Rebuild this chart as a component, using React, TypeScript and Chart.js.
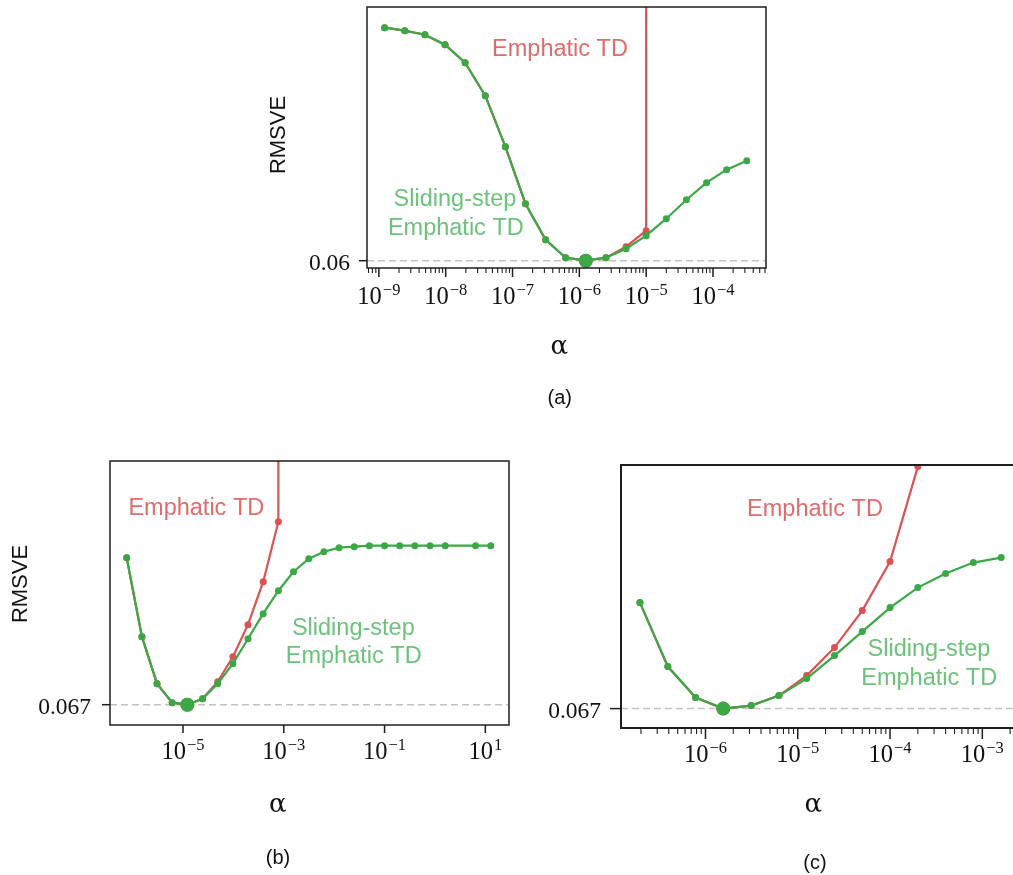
import React, { useEffect, useRef } from "react";
import { Chart, registerables } from "chart.js";
Chart.register(...registerables);

const RED = "#db5252";
const GREEN = "#3ba846";
const RED_TEXT = "#e06b6b";
const GREEN_TEXT = "#6cc27b";
const DASH = "#c2c2c2";

// ---------------- panel (a)
const alphaA = [1.22e-9, 2.44e-9, 4.88e-9, 9.77e-9, 1.95e-8, 3.91e-8, 7.81e-8, 1.56e-7, 3.13e-7, 6.25e-7, 1.25e-6, 2.5e-6, 5e-6, 1e-5, 2e-5, 4e-5, 8e-5, 1.6e-4, 3.2e-4];
const slidingA = [0.0833, 0.083, 0.0826, 0.0816, 0.0798, 0.0765, 0.0714, 0.0657, 0.0621, 0.0603, 0.06, 0.0603, 0.0612, 0.0625, 0.0642, 0.0661, 0.0678, 0.0691, 0.07];
// last entry: diverged run (drawn as a vertical line)
const alphaEmphA = [1.22e-9, 2.44e-9, 4.88e-9, 9.77e-9, 1.95e-8, 3.91e-8, 7.81e-8, 1.56e-7, 3.13e-7, 6.25e-7, 1.25e-6, 2.5e-6, 5e-6, 1e-5, 1e-5];
const emphaticA = [0.0833, 0.083, 0.0826, 0.0816, 0.0798, 0.0765, 0.0714, 0.0657, 0.0621, 0.0603, 0.06, 0.0603, 0.0614, 0.063, 1.0];
const xTickExpA = [-9, -8, -7, -6, -5, -4];
const yTickA = 0.06;
const yTickLabelA = "0.06";

// ---------------- panel (b)
const alphaB = [7.63e-7, 1.53e-6, 3.05e-6, 6.1e-6, 1.22e-5, 2.44e-5, 4.88e-5, 9.77e-5, 1.95e-4, 3.91e-4, 7.81e-4, 1.56e-3, 3.13e-3, 6.25e-3, 0.0125, 0.025, 0.05, 0.1, 0.2, 0.4, 0.8, 1.6, 6.4, 12.8];
const slidingB = [0.0817, 0.0738, 0.0691, 0.0672, 0.067, 0.0676, 0.0691, 0.0711, 0.0736, 0.0761, 0.0784, 0.0803, 0.0816, 0.0823, 0.0827, 0.0828, 0.0829, 0.0829, 0.0829, 0.0829, 0.0829, 0.0829, 0.0829, 0.0829];
const alphaEmphB = [7.63e-7, 1.53e-6, 3.05e-6, 6.1e-6, 1.22e-5, 2.44e-5, 4.88e-5, 9.77e-5, 1.95e-4, 3.91e-4, 7.81e-4, 7.81e-4];
const emphaticB = [0.0817, 0.0738, 0.0691, 0.0672, 0.067, 0.0676, 0.0693, 0.0718, 0.075, 0.0793, 0.0853, 1.0];
const xTickExpB = [-5, -3, -1, 1];
const yTickB = 0.067;
const yTickLabelB = "0.067";

// ---------------- panel (c)
const alphaC = [1.95e-7, 3.91e-7, 7.81e-7, 1.56e-6, 3.13e-6, 6.25e-6, 1.25e-5, 2.5e-5, 5e-5, 1e-4, 2e-4, 4e-4, 8e-4, 1.6e-3];
const slidingC = [0.0776, 0.0712, 0.0681, 0.067, 0.0673, 0.0683, 0.07, 0.0723, 0.0747, 0.0771, 0.0791, 0.0805, 0.0816, 0.0821];
const alphaEmphC = [1.95e-7, 3.91e-7, 7.81e-7, 1.56e-6, 3.13e-6, 6.25e-6, 1.25e-5, 2.5e-5, 5e-5, 1e-4, 2e-4];
const emphaticC = [0.0776, 0.0712, 0.0681, 0.067, 0.0673, 0.0683, 0.0703, 0.0731, 0.0768, 0.0817, 0.0912];
const xTickExpC = [-6, -5, -4, -3];
const yTickC = 0.067;
const yTickLabelC = "0.067";

const SERIF = '"Liberation Serif", "DejaVu Serif", serif';
const GREEK = '"DejaVu Serif", serif';
const SANS = '"Liberation Sans", Arial, sans-serif';

type Txt = { x: number; y: number };
type Spec = {
  left: number; top: number; width: number; height: number;
  box: { l: number; t: number; r: number; b: number };
  xMin: number; xMax: number; yMin: number; yMax: number;
  alphaS: number[]; sliding: number[]; alphaE: number[]; emphatic: number[];
  tickExps: number[]; minor: boolean; majorLen: number; minorLen: number;
  yTick: number; yTickLabel: string; yTickLen: number; yLabelGap: number;
  xLabelOffset: number; frameWidth: number;
  yTitle?: Txt; alpha: Txt; caption: { text: string; x: number; y: number };
  emph: Txt; slid1: Txt; slid2: Txt;
};

const specA: Spec = {
  left: 260, top: 0, width: 530, height: 420,
  box: { l: 367, t: 7, r: 766, b: 268 },
  xMin: 6.64e-10, xMax: 6.21e-4, yMin: 0.05927, yMax: 0.08537,
  alphaS: alphaA, sliding: slidingA, alphaE: alphaEmphA, emphatic: emphaticA,
  tickExps: xTickExpA, minor: true, majorLen: 9, minorLen: 5,
  yTick: yTickA, yTickLabel: yTickLabelA, yTickLen: 8, yLabelGap: 17,
  xLabelOffset: 36, frameWidth: 1.5,
  yTitle: { x: 279, y: 135 }, alpha: { x: 559.3, y: 354 }, caption: { text: "(a)", x: 559.7, y: 404 },
  emph: { x: 560, y: 49.5 }, slid1: { x: 455, y: 199.3 }, slid2: { x: 455.8, y: 228.3 },
};

const specB: Spec = {
  left: 0, top: 440, width: 530, height: 435,
  box: { l: 110, t: 461, r: 509, b: 725 },
  xMin: 3.56e-7, xMax: 29.5, yMin: 0.06497, yMax: 0.09137,
  alphaS: alphaB, sliding: slidingB, alphaE: alphaEmphB, emphatic: emphaticB,
  tickExps: xTickExpB, minor: false, majorLen: 8, minorLen: 0,
  yTick: yTickB, yTickLabel: yTickLabelB, yTickLen: 8, yLabelGap: 19,
  xLabelOffset: 33.5, frameWidth: 1.5,
  yTitle: { x: 21, y: 584 }, alpha: { x: 277.7, y: 811.7 }, caption: { text: "(b)", x: 278, y: 864 },
  emph: { x: 196.3, y: 509 }, slid1: { x: 353.3, y: 628.3 }, slid2: { x: 353.7, y: 656.7 },
};

const specC: Spec = {
  left: 540, top: 440, width: 500, height: 435,
  box: { l: 621, t: 465, r: 1020, b: 728 },
  xMin: 1.215e-7, xMax: 2.56e-3, yMin: 0.06506, yMax: 0.09136,
  alphaS: alphaC, sliding: slidingC, alphaE: alphaEmphC, emphatic: emphaticC,
  tickExps: xTickExpC, minor: true, majorLen: 11, minorLen: 6,
  yTick: yTickC, yTickLabel: yTickLabelC, yTickLen: 11, yLabelGap: 20,
  xLabelOffset: 34, frameWidth: 2,
  alpha: { x: 813.3, y: 812.3 }, caption: { text: "(c)", x: 815, y: 868.5 },
  emph: { x: 815, y: 509.3 }, slid1: { x: 929, y: 649.3 }, slid2: { x: 929.2, y: 678.3 },
};

function drawPow(ctx: CanvasRenderingContext2D, cx: number, baseY: number, exp: number) {
  const base = "10";
  const ex = exp < 0 ? "\u2212" + Math.abs(exp) : String(exp);
  const bs = 24.5, es = 16.5;
  ctx.font = `${bs}px ${SERIF}`;
  const wb = ctx.measureText(base).width;
  ctx.font = `${es}px ${SERIF}`;
  const we = ctx.measureText(ex).width;
  const start = cx - (wb + we + 1) / 2;
  ctx.textAlign = "left";
  ctx.textBaseline = "alphabetic";
  ctx.font = `${bs}px ${SERIF}`;
  ctx.fillText(base, start, baseY);
  ctx.font = `${es}px ${SERIF}`;
  ctx.fillText(ex, start + wb + 1, baseY - 9);
}

function Panel({ spec }: { spec: Spec }) {
  const ref = useRef<HTMLCanvasElement>(null);
  useEffect(() => {
    const s = spec;
    const canvas = ref.current!;
    const pad = {
      left: s.box.l - s.left,
      top: s.box.t - s.top,
      right: s.left + s.width - s.box.r,
      bottom: s.top + s.height - s.box.b,
    };
    const bestIdx = s.sliding.indexOf(Math.min(...s.sliding));
    const radius = (c: any) => {
      const v = c.raw ? c.raw.y : 0;
      if (v > s.yMax) return 0;
      return c.dataIndex === bestIdx ? 7 : 3.5;
    };
    const ox = s.left, oy = s.top;
    const decor = {
      id: "decor",
      afterDatasetsDraw(chart: any) {
        const ctx: CanvasRenderingContext2D = chart.ctx;
        const xs = chart.scales.x, ys = chart.scales.y;
        const a = chart.chartArea;
        ctx.save();
        ctx.strokeStyle = "#1e1e1e";
        ctx.fillStyle = "#111";
        ctx.lineWidth = s.frameWidth;
        ctx.strokeRect(a.left, a.top, a.right - a.left, a.bottom - a.top);
        if (s.minor) {
          ctx.lineWidth = 1.1;
          const e0 = Math.floor(Math.log10(s.xMin));
          const e1 = Math.ceil(Math.log10(s.xMax));
          for (let e = e0; e <= e1; e++) {
            for (let m = 2; m <= 9; m++) {
              const v = m * Math.pow(10, e);
              if (v < s.xMin || v > s.xMax) continue;
              const px = xs.getPixelForValue(v);
              ctx.beginPath();
              ctx.moveTo(px, a.bottom);
              ctx.lineTo(px, a.bottom + s.minorLen);
              ctx.stroke();
            }
          }
        }
        ctx.lineWidth = 1.5;
        for (const e of s.tickExps) {
          const px = xs.getPixelForValue(Math.pow(10, e));
          ctx.beginPath();
          ctx.moveTo(px, a.bottom);
          ctx.lineTo(px, a.bottom + s.majorLen);
          ctx.stroke();
          drawPow(ctx, px, a.bottom + s.xLabelOffset, e);
        }
        const py = ys.getPixelForValue(s.yTick);
        ctx.lineWidth = 1.5;
        ctx.beginPath();
        ctx.moveTo(a.left - s.yTickLen, py);
        ctx.lineTo(a.left, py);
        ctx.stroke();
        ctx.font = `23.5px ${SERIF}`;
        ctx.textAlign = "right";
        ctx.textBaseline = "alphabetic";
        ctx.fillText(s.yTickLabel, a.left - s.yLabelGap, py + 9);
        if (s.yTitle) {
          ctx.save();
          ctx.translate(s.yTitle.x - ox, s.yTitle.y - oy);
          ctx.rotate(-Math.PI / 2);
          ctx.font = `22px ${SANS}`;
          ctx.textAlign = "center";
          ctx.textBaseline = "middle";
          ctx.fillText("RMSVE", 0, 0);
          ctx.restore();
        }
        ctx.font = `26px ${GREEK}`;
        ctx.textAlign = "center";
        ctx.textBaseline = "alphabetic";
        ctx.fillText("\u03b1", s.alpha.x - ox, s.alpha.y - oy);
        ctx.font = `20px ${SANS}`;
        ctx.fillText(s.caption.text, s.caption.x - ox, s.caption.y - oy);
        ctx.font = `23.5px ${SANS}`;
        ctx.textBaseline = "middle";
        ctx.fillStyle = RED_TEXT;
        ctx.fillText("Emphatic TD", s.emph.x - ox, s.emph.y - oy);
        ctx.fillStyle = GREEN_TEXT;
        ctx.fillText("Sliding-step", s.slid1.x - ox, s.slid1.y - oy);
        ctx.fillText("Emphatic TD", s.slid2.x - ox, s.slid2.y - oy);
        ctx.restore();
      },
    };
    const chart = new Chart(canvas, {
      type: "line",
      data: {
        datasets: [
          {
            label: "Sliding-step Emphatic TD",
            data: s.alphaS.map((x, i) => ({ x, y: s.sliding[i] })),
            borderColor: GREEN,
            backgroundColor: GREEN,
            borderWidth: 2.2,
            pointRadius: radius,
            pointBorderWidth: 0,
            tension: 0,
            order: 0,
          },
          {
            label: "Emphatic TD",
            data: s.alphaE.map((x, i) => ({ x, y: s.emphatic[i] })),
            borderColor: RED,
            backgroundColor: RED,
            borderWidth: 2.2,
            pointRadius: radius,
            pointBorderWidth: 0,
            tension: 0,
            order: 1,
          },
          {
            label: "best",
            data: [
              { x: s.xMin, y: s.yTick },
              { x: s.xMax, y: s.yTick },
            ],
            borderColor: DASH,
            borderWidth: 1.5,
            borderDash: [7, 4],
            pointRadius: 0,
            order: 2,
          },
        ],
      },
      options: {
        responsive: false,
        animation: false,
        devicePixelRatio: 1,
        events: [],
        layout: { padding: pad },
        plugins: { legend: { display: false }, tooltip: { enabled: false } },
        scales: {
          x: { type: "logarithmic", min: s.xMin, max: s.xMax, display: false },
          y: { type: "linear", min: s.yMin, max: s.yMax, display: false },
        },
      },
      plugins: [decor],
    } as any);
    return () => chart.destroy();
  }, [spec]);
  return (
    <canvas
      ref={ref}
      width={spec.width}
      height={spec.height}
      style={{ position: "absolute", left: spec.left, top: spec.top, width: spec.width, height: spec.height }}
    />
  );
}

export default function App() {
  return (
    <div
      style={{
        position: "fixed",
        left: 0,
        top: 0,
        width: 1013,
        height: 875,
        overflow: "hidden",
        background: "#fff",
      }}
    >
      <Panel spec={specA} />
      <Panel spec={specB} />
      <Panel spec={specC} />
    </div>
  );
}
